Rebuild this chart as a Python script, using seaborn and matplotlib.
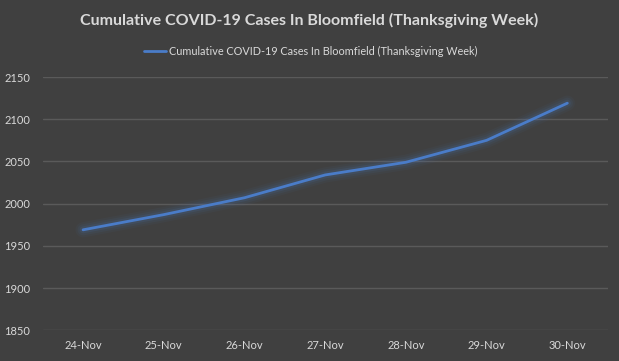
import matplotlib
matplotlib.use("Agg")
import matplotlib.pyplot as plt
import matplotlib.patheffects as pe
import seaborn as sns
import pandas as pd

dates = ["24-Nov", "25-Nov", "26-Nov", "27-Nov", "28-Nov", "29-Nov", "30-Nov"]
cases = [1969, 1987, 2007, 2034, 2049, 2075, 2119]
series_name = "Cumulative COVID-19 Cases In Bloomfield (Thanksgiving Week)"
title = "Cumulative COVID-19 Cases In Bloomfield (Thanksgiving Week)"
yticks = [1850, 1900, 1950, 2000, 2050, 2100, 2150]

df = pd.DataFrame({"date": dates, "cases": cases})

bg = "#404040"
txt = "#D9D9D9"
grid = "#5A5A5A"
line_c = "#4A7CC8"

sns.set_theme(style="dark")
plt.rcParams['font.family'] = ['Lato', 'DejaVu Sans']

fig = plt.figure(figsize=(6.19, 3.61), dpi=100, facecolor=bg)
ax = fig.add_axes([42.7/619, 1 - 330.3/361, (607.7-42.7)/619, (330.3-77)/361])
ax.set_facecolor(bg)

glow = [pe.Stroke(linewidth=11, foreground=line_c, alpha=0.05),
        pe.Stroke(linewidth=8, foreground=line_c, alpha=0.07),
        pe.Stroke(linewidth=5, foreground=line_c, alpha=0.12),
        pe.Normal()]
sns.lineplot(data=df, x="date", y="cases", ax=ax, color=line_c, linewidth=2,
             sort=False, label=series_name, legend=False)
ax.lines[0].set_path_effects(glow)

ax.set_xlim(-0.5, len(dates) - 0.5)
ax.set_ylim(yticks[0], yticks[-1])
ax.set_yticks(yticks)
ax.yaxis.grid(True, color=grid, linewidth=1)
ax.xaxis.grid(False)
for s in ax.spines.values():
    s.set_visible(False)
ax.tick_params(axis='x', colors=txt, labelsize=8, length=0, pad=7)
ax.tick_params(axis='y', colors=txt, labelsize=8, length=0, pad=9)
ax.set_xlabel("")
ax.set_ylabel("")

fig.text(0.5, 1 - 20.5/361, title, ha='center', va='center', color=txt,
         fontsize=11.5, fontweight='bold')
fig.legend(handles=[plt.Line2D([], [], color=line_c, linewidth=2)], labels=[series_name],
           loc='center', bbox_to_anchor=(311/619, 1 - 51.5/361), frameon=False,
           fontsize=7.8, labelcolor=txt, handlelength=2.0, handletextpad=0.3)

fig.savefig("out.png", dpi=100, facecolor=bg)
